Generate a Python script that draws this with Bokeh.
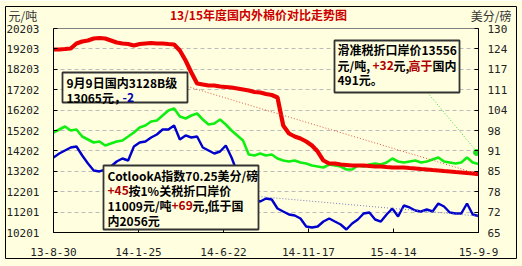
from bokeh.plotting import figure
from bokeh.models import Range1d, LinearAxis, FixedTicker, Label, BoxAnnotation
from bokeh.core.properties import value
from bokeh.embed import file_html
from bokeh.resources import INLINE

# ---- data (day offset from 2013-08-30, sampled every 10 days) ----
days = list(range(0, 750, 10))

# 国内3128B级 (元/吨, left axis)
dom_3128b = [19174, 19174, 19198, 19223, 19468, 19566, 19615, 19713, 19737, 19713,
             19615, 19517, 19468, 19443, 19370, 19443, 19468, 19492, 19468, 19468,
             19443, 19419, 19124, 18634, 18046, 17506, 17457, 17408, 17408, 17359,
             17335, 17310, 17261, 17212, 17163, 17090, 17065, 16992, 16943, 16820,
             15447, 15055, 14908, 14810, 14663, 14467, 14172, 13731, 13584, 13584,
             13535, 13511, 13486, 13486, 13486, 13462, 13437, 13437, 13412, 13388,
             13388, 13388, 13363, 13339, 13314, 13290, 13265, 13241, 13216, 13192,
             13167, 13143, 13118, 13094, 13065]

# 滑准税折口岸价 (元/吨, left axis)
import_sliding = [15104, 15251, 15398, 15202, 15251, 14908, 14761, 14614, 14663, 14467,
                  14565, 14663, 14712, 14908, 15104, 15349, 15447, 15643, 15692, 15938,
                  16183, 16281, 15888, 15790, 15938, 16036, 15741, 15496, 15545, 15741,
                  15496, 15202, 14957, 14712, 14025, 13976, 14074, 13976, 14025, 13829,
                  13731, 13682, 13731, 13633, 13584, 13486, 13437, 13388, 13535, 13486,
                  13437, 13290, 13290, 13486, 13437, 13535, 13584, 13535, 13633, 13829,
                  13682, 13633, 13682, 13731, 13633, 13682, 13780, 13878, 13682, 13633,
                  13584, 13633, 13878, 13633, 13556]

# Cotlook A指数 (美分/磅, right axis)
cotlook_a = [88.90, 90.17, 91.13, 92.08, 92.40, 89.53, 86.99, 84.76, 84.44, 85.07,
             86.03, 87.62, 88.58, 87.94, 92.40, 93.68, 94.00, 95.27, 96.23, 97.82,
             97.82, 99.09, 94.63, 95.91, 95.27, 95.59, 92.08, 91.13, 90.17, 90.81,
             92.72, 88.90, 84.12, 79.98, 76.79, 75.51, 74.88, 75.83, 75.51, 72.65,
             71.69, 70.74, 70.42, 69.46, 66.91, 66.59, 66.91, 68.50, 69.46, 68.50,
             67.55, 65.96, 67.87, 69.14, 71.05, 71.37, 69.14, 68.50, 70.74, 72.65,
             70.10, 73.60, 72.97, 72.01, 71.69, 72.33, 71.69, 74.24, 73.28, 71.37,
             71.05, 71.05, 74.24, 70.74, 70.25]

x_ticks = [0, 148, 296, 444, 592, 740]
x_tick_labels = ["13-8-30", "14-1-25", "14-6-22", "14-11-17", "15-4-14", "15-9-9"]
left_ticks = [10201.4, 11201.6, 12201.8, 13202.0, 14202.2, 15202.4,
              16202.6, 17202.8, 18203.0, 19203.2, 20203.4]
left_tick_labels = ["10201", "11201", "12201", "13202", "14202", "15202",
                    "16202", "17202", "18203", "19203", "20203"]
right_ticks = [65, 71.5, 78, 84.5, 91, 97.5, 104, 110.5, 117, 123.5, 130]
right_tick_labels = ["65", "72", "78", "85", "91", "98", "104", "111", "117", "124", "130"]

# ---- styling / layout ----
BG = "#FFFFE0"
FL, FR, FT, FB = 53, 478, 28, 232          # frame edges in pixels
W, H = 522, 266
X0, X1 = x_ticks[0], x_ticks[-1]
Y0, Y1 = left_ticks[0], left_ticks[-1]
R0, R1 = right_ticks[0], right_ticks[-1]


def dx(px):
    return X0 + (px - FL) / (FR - FL) * (X1 - X0)


def dy(py):
    return Y0 + (FB - py) / (FB - FT) * (Y1 - Y0)


def dyr(py):
    return R0 + (FB - py) / (FB - FT) * (R1 - R0)


p = figure(width=W, height=H, output_backend="svg", toolbar_location=None, title=None,
           x_range=Range1d(X0, X1), y_range=Range1d(Y0, Y1),
           min_border_left=FL, min_border_right=W - FR,
           min_border_top=FT, min_border_bottom=H - FB,
           background_fill_color=BG, border_fill_color=BG,
           outline_line_color="#808080", outline_line_width=1)
p.extra_y_ranges = {"r": Range1d(R0, R1)}

TICK_FONT = "DejaVu Sans Mono"

xa = p.xaxis[0]
xa.ticker = FixedTicker(ticks=x_ticks)
xa.major_label_overrides = dict(zip(x_ticks, x_tick_labels))
ya = p.yaxis[0]
ya.ticker = FixedTicker(ticks=left_ticks)
ya.major_label_overrides = dict(zip(left_ticks, left_tick_labels))
ra = LinearAxis(y_range_name="r", ticker=FixedTicker(ticks=right_ticks))
ra.major_label_overrides = dict(zip(right_ticks, right_tick_labels))
p.add_layout(ra, "right")

for ax in (xa, ya, ra):
    ax.axis_line_color = "black"
    ax.axis_line_width = 1
    ax.major_tick_in = 4
    ax.major_tick_out = 0
    ax.major_tick_line_color = "black"
    ax.minor_tick_line_color = None
    ax.major_label_text_font = TICK_FONT
    ax.major_label_text_font_size = "11px"
    ax.major_label_text_color = "#222222"
xa.major_label_standoff = 15
ya.major_label_standoff = 14
ra.major_label_standoff = 9

p.xgrid.visible = False
p.ygrid.ticker = FixedTicker(ticks=left_ticks)
p.ygrid.grid_line_color = "#BBBBBB"
p.ygrid.grid_line_dash = "4 3"
p.ygrid.grid_line_width = 1

# ---- series ----
p.line(days, import_sliding, line_color="#11EE11", line_width=2.6)
p.line(days, cotlook_a, line_color="#0000CC", line_width=2.4, y_range_name="r")
p.line(days, dom_3128b, line_color="#EE0000", line_width=4.2)

# ---- callout dotted lines ----
p.segment(x0=[dx(187)], y0=[dy(86)], x1=[days[-1]], y1=[dom_3128b[-1]],
          line_color="#DD5544", line_width=1, line_dash="1 2")
p.segment(x0=[dx(258)], y0=[dyr(196)], x1=[days[-1]], y1=[cotlook_a[-1]],
          line_color="#7777BB", line_width=1, line_dash="1 2", y_range_name="r")
p.segment(x0=[dx(427)], y0=[dy(92)], x1=[dx(477)], y1=[dy(152)],
          line_color="#33DD33", line_width=1, line_dash="1 2")
p.scatter([dx(476)], [dy(152)], size=6, fill_color="#22DD22", line_color="#22DD22")

# ---- outer frame (overlay level so it is not clipped to the plot frame) ----
p.quad(left=[dx(5)], right=[dx(516)], top=[dy(6)], bottom=[dy(258)],
       fill_alpha=0, line_color="#000000", line_width=1, level="overlay")

# ---- annotation boxes ----
for (l, t, r, b) in [(62, 72, 187, 102), (103, 165, 258, 229), (334, 40, 459, 92)]:
    p.add_layout(BoxAnnotation(left=dx(l), right=dx(r), top=dy(t), bottom=dy(b),
                               fill_color=BG, fill_alpha=1, line_color="#333333",
                               line_width=1.8, line_alpha=1))

CJK = "Noto Sans CJK SC"
DARKRED = "#B00000"


def lab(text, px, py, color="black", size="12px", bold=True, align="left"):
    p.add_layout(Label(x=dx(px), y=dy(py), text=text, text_color=color,
                       text_font=CJK, text_font_size=size,
                       text_font_style="bold" if bold else "normal",
                       text_align=align, text_baseline="middle"))


def outer_text(text, px, py, color, bold, align):
    p.text(x=[dx(px)], y=[dy(py)], text=[text], text_color=color,
           text_font=value(CJK), text_font_size=value("12px"),
           text_font_style="bold" if bold else "normal",
           text_align=align, text_baseline="middle", level="overlay")


# headings (outside the plot frame)
outer_text("13/15年度国内外棉价对比走势图", 258, 14, "#CC0000", True, "center")
outer_text("元/吨", 8, 15, "#333333", False, "left")
outer_text("美分/磅", 511, 15, "#333333", False, "right")

# box 1
lab("9月9日国内3128B级", 66, 82)
lab("13065元，", 66, 96.5)
lab("-2", 122, 96.5, color="#0000AA")

# box 2
lab("CotlookA指数70.25美分/磅", 107, 175)
lab("+45", 107, 190, color=DARKRED)
lab("按1%关税折口岸价", 128, 190)
lab("11009元/吨", 107, 205)
lab("+69", 171, 205, color=DARKRED)
lab("元,", 192, 205)
lab("低于国", 207, 205)
lab("内2056元", 107, 220)

# box 3
lab("滑准税折口岸价13556", 337, 49)
lab("元/吨,", 337, 65)
lab("+32", 372, 65, color=DARKRED)
lab("元,", 393, 65)
lab("高于", 408, 65, color=DARKRED)
lab("国内", 432, 65)
lab("491元。", 337, 79)

open("out.html", "w").write(file_html(p, INLINE))
